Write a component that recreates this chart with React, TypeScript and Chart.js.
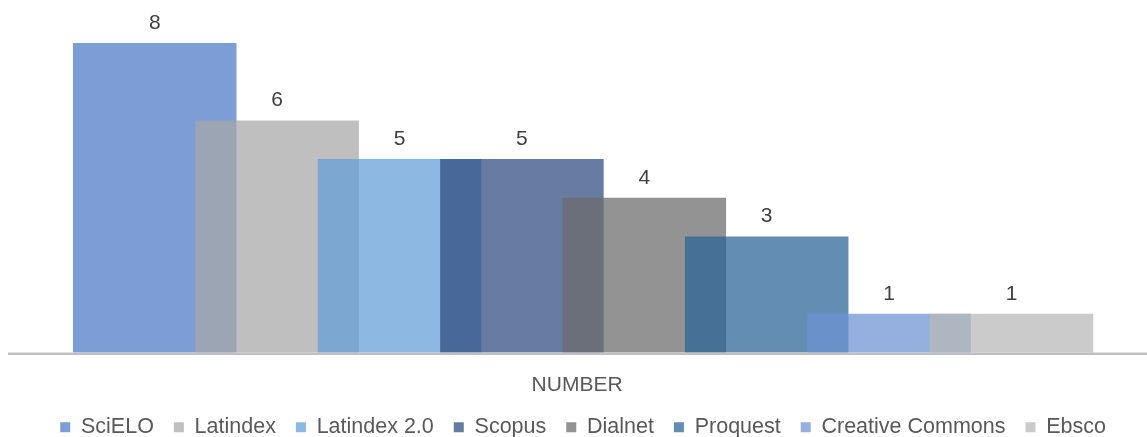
import React, { useEffect, useRef } from 'react';
import { Chart, registerables } from 'chart.js';

Chart.register(...registerables);

const categories = ['NUMBER'];
const seriesNames = ['SciELO', 'Latindex', 'Latindex 2.0', 'Scopus', 'Dialnet', 'Proquest', 'Creative Commons', 'Ebsco'];
const seriesValues = [8, 6, 5, 5, 4, 3, 1, 1];
// colours as they appear over white
const seriesColors = ['#7C9DD6', '#BFBFBF', '#8CB8E2', '#687BA2', '#939393', '#648DB3', '#95B0DE', '#CBCBCB'];
const yMin = 0;
const yMax = 8;

const ALPHA = 0.73;
const FONT = '"Liberation Sans", Arial, sans-serif';

function toRgba(hex: string, a: number): string {
  const n = parseInt(hex.slice(1), 16);
  const ch = [(n >> 16) & 255, (n >> 8) & 255, n & 255].map((d) => {
    const c = (d - (1 - a) * 255) / a;
    return Math.max(0, Math.min(255, Math.round(c)));
  });
  return `rgba(${ch[0]},${ch[1]},${ch[2]},${a})`;
}

const overlapPlugin = {
  id: 'overlapDraw',
  beforeDatasetsDraw(chart: any) {
    const metas = chart.getSortedVisibleDatasetMetas();
    const ctx = chart.ctx;
    // draw first series first so later series sit on top (Excel-like)
    for (const m of metas) m.controller.draw();
    // base line
    ctx.save();
    ctx.fillStyle = '#BFBFBF';
    ctx.fillRect(8, chart.chartArea.bottom, chart.width - 8, 2.5);
    ctx.restore();
    // data labels
    ctx.save();
    ctx.font = `21px ${FONT}`;
    ctx.fillStyle = '#404040';
    ctx.textAlign = 'center';
    ctx.textBaseline = 'middle';
    for (const m of metas) {
      const el = m.data[0];
      const v = chart.data.datasets[m.index].data[0];
      ctx.fillText(String(v), el.x, el.y - 20);
    }
    ctx.restore();
    return false;
  },
};

export default function App() {
  const ref = useRef<HTMLCanvasElement | null>(null);

  useEffect(() => {
    document.body.style.margin = '0';
    if (!ref.current) return;
    Chart.defaults.font.family = FONT;
    const chart = new Chart(ref.current, {
      type: 'bar',
      data: {
        labels: categories,
        datasets: seriesNames.map((name, i) => ({
          label: name,
          data: [seriesValues[i]],
          backgroundColor: toRgba(seriesColors[i], ALPHA),
          borderWidth: 0,
          categoryPercentage: 0.8682,
          barPercentage: 1.336,
        })),
      },
      options: {
        responsive: false,
        animation: false,
        layout: { padding: { top: 43, left: 19.2, right: 0, bottom: 0 } },
        plugins: {
          legend: {
            position: 'bottom',
            labels: {
              boxWidth: 10,
              boxHeight: 10,
              padding: 20,
              color: '#595959',
              font: { size: 21.5, family: FONT },
            },
          },
          tooltip: { enabled: false },
        },
        scales: {
          x: {
            grid: { display: false },
            border: { display: false },
            ticks: {
              padding: 12,
              labelOffset: -6,
              color: '#595959',
              font: { size: 21, family: FONT },
            },
            afterFit: (scale: any) => {
              scale.height = 44;
            },
          },
          y: {
            display: false,
            min: yMin,
            max: yMax,
          },
        },
      },
      plugins: [overlapPlugin],
    });
    return () => chart.destroy();
  }, []);

  return (
    <div style={{ width: 1147, height: 437, overflow: 'hidden', position: 'relative' }}>
      <canvas ref={ref} width={1147} height={448} style={{ display: 'block' }} />
    </div>
  );
}
